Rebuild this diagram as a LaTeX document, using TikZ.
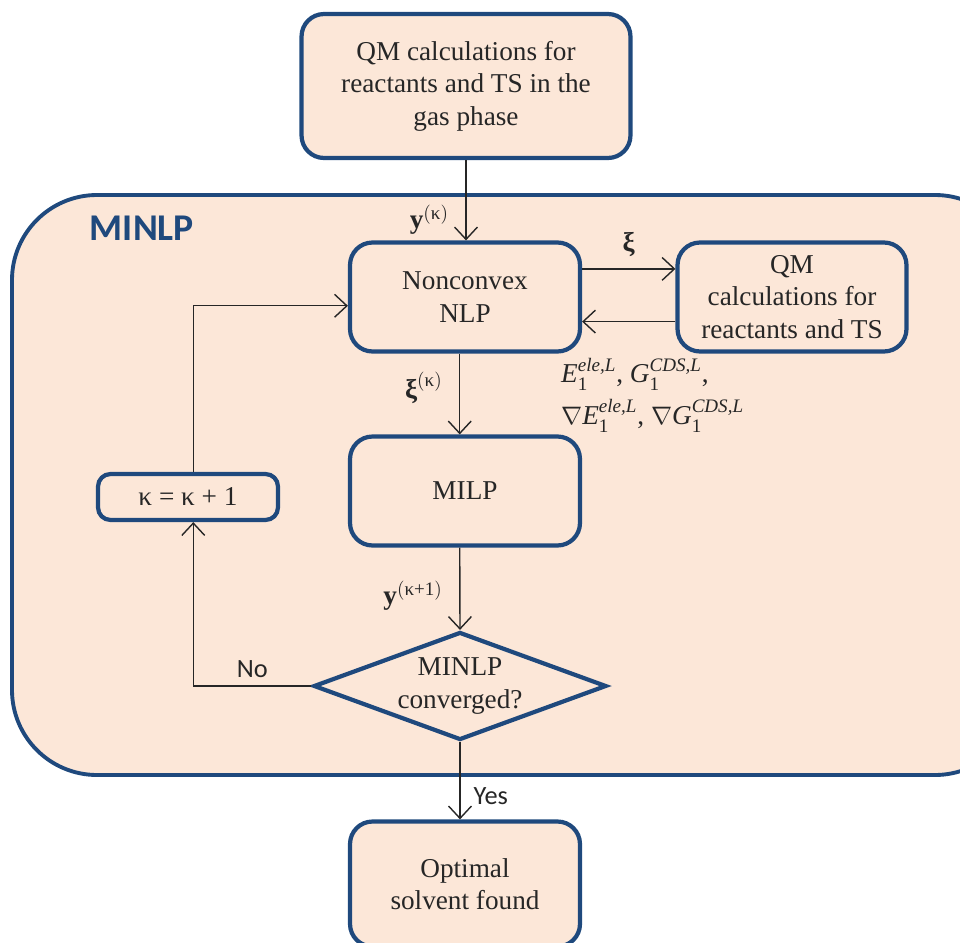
\documentclass[tikz,border=0pt]{standalone}
\usepackage{amsmath}
\usepackage{fontspec}
\setmainfont{Liberation Serif}
\newfontfamily\sanslabel{Carlito}
\usetikzlibrary{shapes.geometric, arrows.meta}
\definecolor{boxblue}{RGB}{31,73,125}
\definecolor{boxfill}{RGB}{252,231,216}

\begin{document}
\begin{tikzpicture}[x=0.02cm, y=-0.02cm,
	block/.style={draw=boxblue, line width=2.4pt, fill=boxfill, rounded corners=0.45cm,
		align=center, inner sep=0pt, minimum width=4.6cm, minimum height=2.18cm,
		text=black!85, font=\fontsize{15.5}{18.5}\selectfont},
	decision/.style={draw=boxblue, line width=2.4pt, fill=boxfill, shape=diamond,
		inner sep=0pt, minimum width=5.86cm, minimum height=2.16cm},
	flow/.style={-{Straight Barb[length=7pt,width=13pt]}, line width=0.8pt, black!85},
	lbl/.style={text=black!85, font=\fontsize{15.5}{18.5}\selectfont},
	sanslbl/.style={text=black!85, font=\sanslabel\fontsize{15}{18}\selectfont}]
	
	\path[use as bounding box, clip] (0,0) rectangle (960,943);
	
	% outer MINLP region
	\draw[draw=boxblue, line width=2.2pt, fill=boxfill, rounded corners=1.7cm] (12,195) rectangle (1020,775);
	\node[text=boxblue, font=\sanslabel\bfseries\fontsize{21.5}{25}\selectfont] (title) at (142,228) {MINLP};
	
	\node[block, minimum width=6.58cm, minimum height=2.88cm] (gas) at (466,86) {QM calculations for\\reactants and TS in the\\gas phase};
	\node[block] (nlp) at (465,297) {Nonconvex\\NLP};
	\node[block, minimum width=4.58cm] (qm) at (792,297) {QM\\calculations for\\reactants and TS};
	\node[block] (milp) at (465,491) {MILP};
	\node[block, minimum width=3.6cm, minimum height=0.92cm, rounded corners=0.25cm] (kappa) at (188,497) {κ = κ + 1};
	\node[decision, label={[lbl, align=center]center:MINLP\\converged?}] (dec) at (460,686) {};
	\node[block, minimum height=2.5cm] (opt) at (465,884) {Optimal\\solvent found};
	
	\node[lbl, anchor=west, align=left] (grad) at (555,395)
		{$\textit{E}_{\text{1}}^{\textit{ele,L}}$, $\textit{G}_{\text{1}}^{\textit{CDS,L}}$,\\[4pt]
		$\nabla\textit{E}_{\text{1}}^{\textit{ele,L}}$, $\nabla\textit{G}_{\text{1}}^{\textit{CDS,L}}$};
	
	\draw[flow] (gas.south) -- (nlp.north -| gas.south) node[lbl, pos=0.74, left=6pt] {$\textbf{y}^{(\text{κ})}$};
	\draw[flow] ([yshift=16pt]nlp.east) -- ([yshift=16pt]qm.west) node[lbl, midway, above=3pt] {\textbf{ξ}};
	\draw[flow] ([yshift=-14pt]qm.west) -- ([yshift=-14pt]nlp.east);
	\draw[flow] ([xshift=-3pt]nlp.south) -- ([xshift=-3pt]milp.north) node[lbl, pos=0.42, left=6pt] {$\textbf{ξ}^{(\text{κ})}$};
	\draw[flow] ([xshift=-3pt]milp.south) -- (dec.north) node[lbl, pos=0.58, left=6pt] {$\textbf{y}^{(\text{κ+1})}$};
	\draw[flow] (dec.west) -| ([xshift=3pt]kappa.south) node[sanslbl, pos=0.25, above=1pt] {No};
	\draw[flow] ([xshift=3pt]kappa.north) |- ([yshift=-5pt]nlp.west);
	\draw[flow] (dec.south) -- (opt.north -| dec.south) node[sanslbl, pos=0.7, right=4pt] {Yes};
\end{tikzpicture}
\end{document}
